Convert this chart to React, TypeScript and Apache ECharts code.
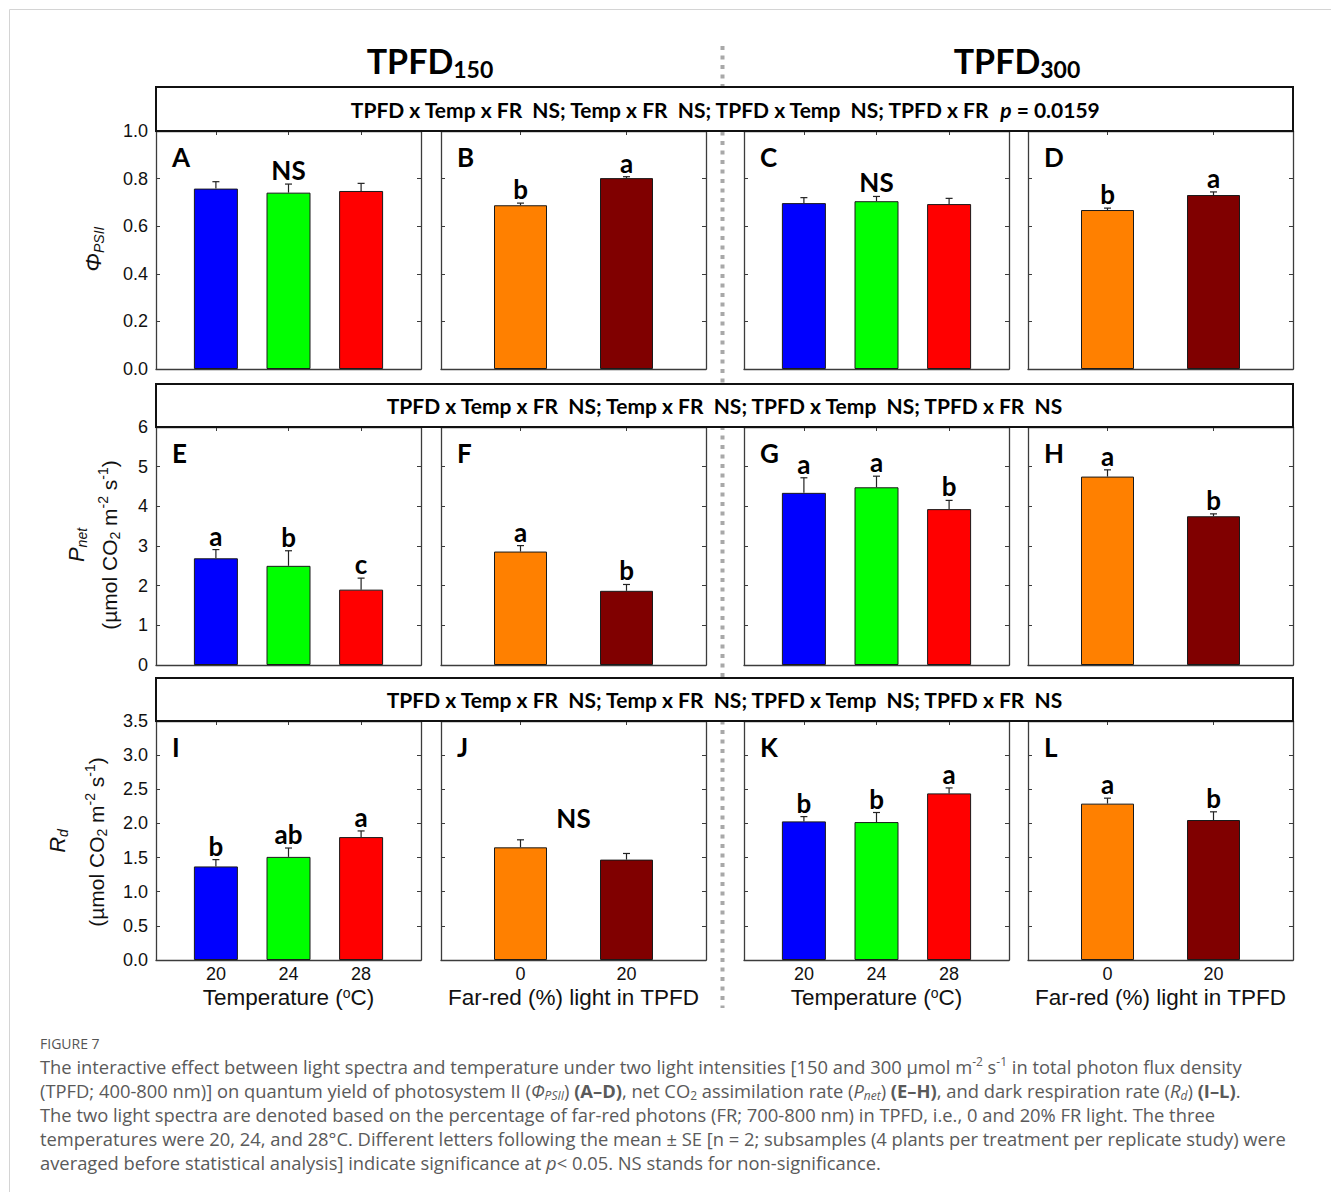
import React, { useEffect, useRef } from 'react';
import * as echarts from 'echarts';

// ---------- categories ----------
const temperatures = [20, 24, 28];
const farRedPercent = [0, 20];
const temperatureColors = ['#0000FF', '#00FF00', '#FF0000'];
const farRedColors = ['#FF8000', '#800000'];

// ---------- Row 1: quantum yield of PSII ----------
const phiTemp150 = [0.758, 0.741, 0.748];
const phiTemp150Se = [0.029, 0.036, 0.032];
const phiTemp150Letters = ['', 'NS', ''];
const phiFr150 = [0.688, 0.802];
const phiFr150Se = [0.009, 0.006];
const phiFr150Letters = ['b', 'a'];
const phiTemp300 = [0.697, 0.705, 0.693];
const phiTemp300Se = [0.023, 0.020, 0.024];
const phiTemp300Letters = ['', 'NS', ''];
const phiFr300 = [0.668, 0.731];
const phiFr300Se = [0.008, 0.013];
const phiFr300Letters = ['b', 'a'];

// ---------- Row 2: net CO2 assimilation ----------
const pnetTemp150 = [2.69, 2.50, 1.90];
const pnetTemp150Se = [0.22, 0.38, 0.29];
const pnetTemp150Letters = ['a', 'b', 'c'];
const pnetFr150 = [2.86, 1.87];
const pnetFr150Se = [0.15, 0.16];
const pnetFr150Letters = ['a', 'b'];
const pnetTemp300 = [4.34, 4.48, 3.93];
const pnetTemp300Se = [0.38, 0.28, 0.22];
const pnetTemp300Letters = ['a', 'a', 'b'];
const pnetFr300 = [4.75, 3.75];
const pnetFr300Se = [0.17, 0.06];
const pnetFr300Letters = ['a', 'b'];

// ---------- Row 3: dark respiration ----------
const rdTemp150 = [1.37, 1.51, 1.80];
const rdTemp150Se = [0.10, 0.13, 0.09];
const rdTemp150Letters = ['b', 'ab', 'a'];
const rdFr150 = [1.65, 1.47];
const rdFr150Se = [0.11, 0.09];
const rdFr150Letters = ['', ''];
const rdTemp300 = [2.03, 2.02, 2.44];
const rdTemp300Se = [0.07, 0.14, 0.08];
const rdTemp300Letters = ['b', 'b', 'a'];
const rdFr300 = [2.29, 2.05];
const rdFr300Se = [0.08, 0.12];
const rdFr300Letters = ['a', 'b'];

// ---------- axes ----------
const rowMax = [1.0, 6, 3.5];
const rowInterval = [0.2, 1, 0.5];
const rowDecimals = [1, 0, 1];
const panelLetters = ['A', 'B', 'C', 'D', 'E', 'F', 'G', 'H', 'I', 'J', 'K', 'L'];
const columnTitles = [['TPFD', '150'], ['TPFD', '300']];
const headerTexts = [
  'TPFD x Temp x FR  NS; Temp x FR  NS; TPFD x Temp  NS; TPFD x FR  {i|p} = 0.0159',
  'TPFD x Temp x FR  NS; Temp x FR  NS; TPFD x Temp  NS; TPFD x FR  NS',
  'TPFD x Temp x FR  NS; Temp x FR  NS; TPFD x Temp  NS; TPFD x FR  NS',
];

const captionLines = [
  'The interactive effect between light spectra and temperature under two light intensities [150 and 300 \u00b5mol m{sup|-2} s{sup|-1} in total photon flux density',
  '(TPFD; 400-800 nm)] on quantum yield of photosystem II ({i|\u03a6}{isub|PSII}) {b|(A\u2013D)}, net CO{sub|2} assimilation rate ({i|P}{isub|net}) {b|(E\u2013H)}, and dark respiration rate ({i|R}{isub|d}) {b|(I\u2013L)}.',
  'The two light spectra are denoted based on the percentage of far-red photons (FR; 700-800 nm) in TPFD, i.e., 0 and 20% FR light. The three',
  'temperatures were 20, 24, and 28\u00b0C. Different letters following the mean \u00b1 SE [n = 2; subsamples (4 plants per treatment per replicate study) were',
  'averaged before statistical analysis] indicate significance at {i|p}< 0.05. NS stands for non-significance.',
];

type Panel = {
  row: number;
  col: number;
  kind: 'temp' | 'fr';
  mean: number[];
  se: number[];
  letters: string[];
  nsCenter?: boolean;
};

const panels: Panel[] = [
  { row: 0, col: 0, kind: 'temp', mean: phiTemp150, se: phiTemp150Se, letters: phiTemp150Letters },
  { row: 0, col: 1, kind: 'fr', mean: phiFr150, se: phiFr150Se, letters: phiFr150Letters },
  { row: 0, col: 2, kind: 'temp', mean: phiTemp300, se: phiTemp300Se, letters: phiTemp300Letters },
  { row: 0, col: 3, kind: 'fr', mean: phiFr300, se: phiFr300Se, letters: phiFr300Letters },
  { row: 1, col: 0, kind: 'temp', mean: pnetTemp150, se: pnetTemp150Se, letters: pnetTemp150Letters },
  { row: 1, col: 1, kind: 'fr', mean: pnetFr150, se: pnetFr150Se, letters: pnetFr150Letters },
  { row: 1, col: 2, kind: 'temp', mean: pnetTemp300, se: pnetTemp300Se, letters: pnetTemp300Letters },
  { row: 1, col: 3, kind: 'fr', mean: pnetFr300, se: pnetFr300Se, letters: pnetFr300Letters },
  { row: 2, col: 0, kind: 'temp', mean: rdTemp150, se: rdTemp150Se, letters: rdTemp150Letters },
  { row: 2, col: 1, kind: 'fr', mean: rdFr150, se: rdFr150Se, letters: rdFr150Letters, nsCenter: true },
  { row: 2, col: 2, kind: 'temp', mean: rdTemp300, se: rdTemp300Se, letters: rdTemp300Letters },
  { row: 2, col: 3, kind: 'fr', mean: rdFr300, se: rdFr300Se, letters: rdFr300Letters },
];

// ---------- layout ----------
const colLeft = [156, 441, 744, 1028];
const panelWidth = 265;
const rowTop = [131, 427, 721];
const rowHeight = [238, 238, 239];
const headerTop = [87, 384, 678];
const tempRange = [16.7, 31.3];
const frRange = [-15, 35];

const FONT_AXIS = '"Liberation Sans", Arial, sans-serif';
const FONT_BOLD = 'Lato, "Open Sans", sans-serif';
const FONT_CAPTION = '"Open Sans", "Noto Sans", sans-serif';
const LINE = '#3c3c3c';
const CAP = '#5a5a5a';
const CAP_SIZE = 18.35;

const nb = (s: string) => s.replace(/ {2}/g, ' \u00a0');

function buildOption() {
  const grid: any[] = [];
  const xAxis: any[] = [];
  const yAxis: any[] = [];
  const series: any[] = [];

  panels.forEach((p, i) => {
    const isTemp = p.kind === 'temp';
    const cats = isTemp ? temperatures : farRedPercent;
    const colors = isTemp ? temperatureColors : farRedColors;
    const range = isTemp ? tempRange : frRange;
    grid.push({
      left: colLeft[p.col],
      top: rowTop[p.row],
      width: panelWidth,
      height: rowHeight[p.row],
      containLabel: false,
      outerBoundsMode: 'none',
    });
    const lineStyle = { color: LINE, width: 1.3 };
    const xCommon = {
      type: 'value',
      gridIndex: i,
      min: range[0],
      max: range[1],
      splitLine: { show: false },
    };
    xAxis.push({
      ...xCommon,
      position: 'bottom',
      axisLine: { show: true, onZero: false, lineStyle },
      axisTick: { show: true, inside: true, length: 4, customValues: cats, lineStyle: { color: LINE } },
      axisLabel: {
        show: p.row === 2,
        customValues: cats,
        fontSize: 18,
        fontFamily: FONT_AXIS,
        color: '#111',
        margin: 5,
      },
      name:
        p.row === 2
          ? isTemp
            ? 'Temperature ({sup|o}C)'
            : 'Far-red (%) light in TPFD'
          : '',
      nameLocation: 'middle',
      nameGap: 26,
      nameMoveOverlap: false,
      nameTextStyle: {
        fontSize: 22.5,
        fontFamily: FONT_AXIS,
        color: '#111',
        rich: { sup: { fontSize: 14, fontFamily: FONT_AXIS, color: '#111', verticalAlign: 'top', lineHeight: 12 } },
      },
    });
    xAxis.push({
      ...xCommon,
      position: 'top',
      axisLine: { show: true, onZero: false, lineStyle },
      axisTick: { show: true, inside: true, length: 4, customValues: cats, lineStyle: { color: LINE } },
      axisLabel: { show: false },
    });
    const yCommon = {
      type: 'value',
      gridIndex: i,
      min: 0,
      max: rowMax[p.row],
      interval: rowInterval[p.row],
      splitLine: { show: false },
    };
    yAxis.push({
      ...yCommon,
      position: 'left',
      axisLine: { show: true, onZero: false, lineStyle },
      axisTick: { show: true, inside: true, length: 4, lineStyle: { color: LINE } },
      axisLabel: {
        show: p.col === 0,
        formatter: (v: number) => v.toFixed(rowDecimals[p.row]),
        fontSize: 18,
        fontFamily: FONT_AXIS,
        color: '#111',
        margin: 8,
      },
    });
    yAxis.push({
      ...yCommon,
      position: 'right',
      axisLine: { show: true, onZero: false, lineStyle },
      axisTick: { show: true, inside: true, length: 4, lineStyle: { color: LINE } },
      axisLabel: { show: false },
    });

    series.push({
      type: 'bar',
      xAxisIndex: 2 * i,
      yAxisIndex: 2 * i,
      barWidth: isTemp ? 44 : 53,
      silent: true,
      itemStyle: { borderColor: '#1a1a1a', borderWidth: 1 },
      data: p.mean.map((m, j) => ({ value: [cats[j], m], itemStyle: { color: colors[j] } })),
    });

    const tops = p.mean.map((m, j) => m + p.se[j]);
    series.push({
      type: 'custom',
      xAxisIndex: 2 * i,
      yAxisIndex: 2 * i,
      z: 4,
      silent: true,
      clip: false,
      encode: { x: 0, y: 1 },
      data: p.mean.map((m, j) => [cats[j], m, p.se[j]]),
      renderItem: (params: any, api: any) => {
        const x = api.value(0);
        const m = api.value(1);
        const s = api.value(2);
        const base = api.coord([x, m]);
        const top = api.coord([x, m + s]);
        const children: any[] = [
          {
            type: 'line',
            shape: { x1: base[0], y1: base[1], x2: top[0], y2: top[1] },
            style: { stroke: '#222', lineWidth: 1.2 },
          },
          {
            type: 'line',
            shape: { x1: top[0] - 3.5, y1: top[1], x2: top[0] + 3.5, y2: top[1] },
            style: { stroke: '#222', lineWidth: 1.2 },
          },
        ];
        const letter = p.letters[params.dataIndex];
        const letterStyle = {
          fontSize: 26,
          fontWeight: 'bold',
          fontFamily: FONT_BOLD,
          fill: '#000',
          textAlign: 'center',
          textVerticalAlign: 'middle',
        };
        if (letter) {
          children.push({
            type: 'text',
            x: top[0],
            y: top[1] - 14,
            style: { ...letterStyle, text: letter },
          });
        }
        if (p.nsCenter && params.dataIndex === 0) {
          const mid = api.coord([(cats[0] + cats[cats.length - 1]) / 2, Math.max(...tops)]);
          children.push({
            type: 'text',
            x: mid[0],
            y: mid[1] - 22,
            style: { ...letterStyle, text: 'NS' },
          });
        }
        return { type: 'group', children };
      },
    });
  });

  // ---------- graphic elements ----------
  const graphic: any[] = [];
  graphic.push({
    type: 'rect',
    z: 0,
    silent: true,
    shape: { x: 9.5, y: 9.5, width: 1340, height: 1200 },
    style: { fill: 'none', stroke: '#d4d4d4', lineWidth: 1 },
  });
  graphic.push({
    type: 'line',
    z: 1,
    silent: true,
    shape: { x1: 722.5, y1: 46, x2: 722.5, y2: 1008 },
    style: { stroke: '#a8a8a8', lineWidth: 4, lineDash: [4, 5.5] },
  });
  // column titles
  columnTitles.forEach((t, c) => {
    graphic.push({
      type: 'text',
      z: 10,
      silent: true,
      x: c === 0 ? 430 : 1017,
      y: 60,
      style: {
        text: `{m|${t[0]}}{s|${t[1]}}`,
        textAlign: 'center',
        textVerticalAlign: 'middle',
        rich: {
          m: { fontSize: 34, fontWeight: 'bold', fontFamily: FONT_BOLD, fill: '#000', lineHeight: 40 },
          s: { fontSize: 23, fontWeight: 'bold', fontFamily: FONT_BOLD, fill: '#000', lineHeight: 23, verticalAlign: 'bottom' },
        },
      },
    });
  });
  // header boxes
  headerTexts.forEach((t, r) => {
    const y0 = headerTop[r];
    const h = rowTop[r] - y0;
    graphic.push({
      type: 'rect',
      z: 20,
      silent: true,
      shape: { x: colLeft[0], y: y0, width: colLeft[3] + panelWidth - colLeft[0], height: h },
      style: { fill: '#fff', stroke: '#111', lineWidth: 2 },
    });
    graphic.push({
      type: 'text',
      z: 21,
      silent: true,
      x: (colLeft[0] + colLeft[3] + panelWidth) / 2,
      y: y0 + h / 2,
      style: {
        text: nb(t),
        fontSize: 21,
        fontWeight: 'bold',
        fontFamily: FONT_BOLD,
        fill: '#000',
        textAlign: 'center',
        textVerticalAlign: 'middle',
        rich: {
          i: { fontSize: 21, fontWeight: 'bold', fontStyle: 'italic', fontFamily: FONT_BOLD, fill: '#000' },
        },
      },
    });
  });
  // panel letters
  panels.forEach((p, i) => {
    graphic.push({
      type: 'text',
      z: 10,
      silent: true,
      x: colLeft[p.col] + 16,
      y: rowTop[p.row] + 26,
      style: {
        text: panelLetters[i],
        fontSize: 26,
        fontWeight: 'bold',
        fontFamily: FONT_BOLD,
        fill: '#000',
        textAlign: 'left',
        textVerticalAlign: 'middle',
      },
    });
  });
  // y axis titles
  const yRich = {
    i: { fontSize: 22, fontStyle: 'italic', fontFamily: FONT_AXIS, fill: '#111', lineHeight: 26 },
    isub: { fontSize: 14, fontStyle: 'italic', fontFamily: FONT_AXIS, fill: '#111', lineHeight: 14, verticalAlign: 'bottom' },
    sub: { fontSize: 14, fontFamily: FONT_AXIS, fill: '#111', lineHeight: 14, verticalAlign: 'bottom' },
    sup: { fontSize: 14, fontFamily: FONT_AXIS, fill: '#111', lineHeight: 14, verticalAlign: 'top' },
  };
  const yTitles: [string, number, number][] = [
    ['{i|\u03a6}{isub|PSII}', 93, 249],
    ['{i|P}{isub|net}', 76, 545],
    ['(\u00b5mol CO{sub|2} m{sup|-2} s{sup|-1})', 109, 545],
    ['{i|R}{isub|d}', 57, 841],
    ['(\u00b5mol CO{sub|2} m{sup|-2} s{sup|-1})', 96, 842],
  ];
  yTitles.forEach(([t, x, y]) => {
    graphic.push({
      type: 'text',
      z: 10,
      silent: true,
      x,
      y,
      rotation: Math.PI / 2,
      style: {
        text: t,
        fontSize: 21,
        fontFamily: FONT_AXIS,
        fill: '#111',
        lineHeight: 26,
        textAlign: 'center',
        textVerticalAlign: 'middle',
        rich: yRich,
      },
    });
  });
  // caption
  graphic.push({
    type: 'text',
    z: 10,
    silent: true,
    x: 40,
    y: 1043,
    style: {
      text: 'FIGURE 7',
      fontSize: 14,
      fontFamily: FONT_CAPTION,
      fontWeight: 500,
      fill: '#555',
      textAlign: 'left',
      textVerticalAlign: 'middle',
    },
  });
  const capRich = {
    sup: { fontSize: 12, fontFamily: FONT_CAPTION, fill: CAP, lineHeight: 13, verticalAlign: 'top' },
    sub: { fontSize: 12, fontFamily: FONT_CAPTION, fill: CAP, lineHeight: 17, verticalAlign: 'bottom' },
    i: { fontSize: CAP_SIZE, fontStyle: 'italic', fontFamily: FONT_CAPTION, fill: CAP, lineHeight: 22 },
    isub: { fontSize: 12, fontStyle: 'italic', fontFamily: FONT_CAPTION, fill: CAP, lineHeight: 17, verticalAlign: 'bottom' },
    b: { fontSize: CAP_SIZE, fontWeight: 'bold', fontFamily: FONT_CAPTION, fill: CAP, lineHeight: 22 },
  };
  captionLines.forEach((t, k) => {
    graphic.push({
      type: 'text',
      z: 10,
      silent: true,
      x: 40,
      y: 1066 + k * 24,
      style: {
        text: t,
        fontSize: CAP_SIZE,
        fontFamily: FONT_CAPTION,
        fill: CAP,
        lineHeight: 22,
        textAlign: 'left',
        textVerticalAlign: 'middle',
        rich: capRich,
      },
    });
  });

  return {
    animation: false,
    backgroundColor: '#ffffff',
    grid,
    xAxis,
    yAxis,
    series,
    graphic: { elements: graphic },
  };
}

export default function App() {
  const ref = useRef<HTMLDivElement>(null);
  useEffect(() => {
    if (!ref.current) return;
    const chart = echarts.init(ref.current, null, { renderer: 'svg' });
    chart.setOption(buildOption() as any);
    return () => chart.dispose();
  }, []);
  return (
    <div
      ref={ref}
      style={{ position: 'absolute', left: 0, top: 0, width: 1331, height: 1192, background: '#fff' }}
    />
  );
}
